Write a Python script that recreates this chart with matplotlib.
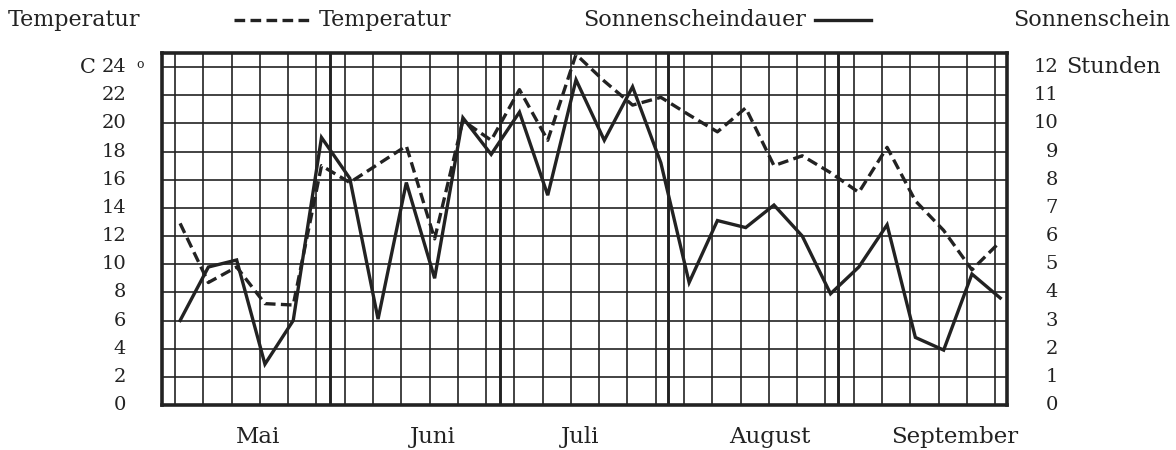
import matplotlib
matplotlib.use("Agg")
import matplotlib.pyplot as plt
import numpy as np

# ---- data (pentads, May - September) ----
temperatur = [12.9, 8.7, 9.8, 7.2, 7.1, 17.0, 15.8, 17.1, 18.4, 11.8,
              20.2, 18.8, 22.4, 18.8, 24.9, 23.0, 21.3, 21.85, 20.6, 19.4,
              21.1, 17.0, 17.7, 16.5, 15.1, 18.3, 14.5, 12.4, 9.6, 11.6]
sonnenschein = [3.0, 4.9, 5.15, 1.45, 3.0, 9.5, 8.05, 3.05, 7.9, 4.5,
                10.2, 8.9, 10.4, 7.45, 11.55, 9.4, 11.3, 8.6, 4.35, 6.55,
                6.3, 7.1, 6.0, 3.95, 4.9, 6.4, 2.4, 1.95, 4.65, 3.8]
months = ["Mai", "Juni", "Juli", "August", "September"]
month_label_pos = [2.76, 8.95, 14.14, 20.86, 27.4]
month_bounds = [5.30, 11.32, 17.26, 23.27]
left_ticks = list(range(0, 25, 2))
right_ticks = list(range(0, 13))

ink = "#222222"
font = "DejaVu Serif"
plt.rcParams['font.family'] = [font]

W, H = 1176, 450
fig = plt.figure(figsize=(W / 100, H / 100), dpi=100)
fig.patch.set_facecolor("white")
L, R, B, T = 162, 1007, 405, 53
ax = fig.add_axes([L / W, 1 - B / H, (R - L) / W, (B - T) / H])
x = np.arange(len(temperatur))
ax.set_xlim(-0.64, 29.24)
ax.set_ylim(0, 25)

# grid
for i in range(len(x)):
    ax.axvline(i - 0.18, color=ink, lw=1.2, zorder=1)
for yv in left_ticks[1:]:
    ax.axhline(yv, color=ink, lw=1.2, zorder=1)
for mb in month_bounds:
    ax.axvline(mb, color=ink, lw=2.1, zorder=1)
for s in ax.spines.values():
    s.set_linewidth(2.6)
    s.set_color(ink)
ax.set_xticks([])
ax.set_yticks([])

# series
sun_left = [v * 2 for v in sonnenschein]
ax.plot(x, sun_left, color=ink, lw=2.4, solid_joinstyle="miter", zorder=3)
ax.plot(x, temperatur, color=ink, lw=2.4, dashes=(3.2, 1.6), zorder=3)

tick_fs = 14
# left axis labels
for v in left_ticks:
    ax.annotate(str(v), xy=(0, v), xycoords=("axes fraction", "data"),
                xytext=(-36, 0), textcoords="offset pixels",
                ha="right", va="center", fontsize=tick_fs, color=ink)
ax.annotate("C", xy=(0, 24), xycoords=("axes fraction", "data"),
            xytext=(-66, 0), textcoords="offset pixels",
            ha="right", va="center", fontsize=15, color=ink)
ax.annotate("o", xy=(0, 24), xycoords=("axes fraction", "data"),
            xytext=(-22, 3), textcoords="offset pixels",
            ha="center", va="center", fontsize=9, color=ink)
# right axis labels
for v in right_ticks:
    ax.annotate(str(v), xy=(1, v * 2), xycoords=("axes fraction", "data"),
                xytext=(51, 0), textcoords="offset pixels",
                ha="right", va="center", fontsize=tick_fs, color=ink)
ax.annotate("Stunden", xy=(1, 24), xycoords=("axes fraction", "data"),
            xytext=(59, 0), textcoords="offset pixels",
            ha="left", va="center", fontsize=16, color=ink)

# month labels
for m, p in zip(months, month_label_pos):
    ax.annotate(m, xy=(p, 0), xycoords="data", xytext=(0, -32),
                textcoords="offset pixels", ha="center", va="center",
                fontsize=16.5, color=ink)

# header
hfs = 16
fy = 1 - 20 / H
fig.text(8 / W, fy, "Temperatur", ha="left", va="center", fontsize=hfs, color=ink)
fig.text(319 / W, fy, "Temperatur", ha="left", va="center", fontsize=hfs, color=ink)
fig.add_artist(matplotlib.lines.Line2D([234 / W, 310 / W], [fy, fy], color=ink,
                                       lw=2.4, dashes=(3.2, 1.6)))
fig.text(806 / W, fy, "Sonnenscheindauer", ha="right", va="center", fontsize=hfs, color=ink)
fig.add_artist(matplotlib.lines.Line2D([815 / W, 871 / W], [fy, fy], color=ink, lw=2.4))
fig.text(1170 / W, fy, "Sonnenschein", ha="right", va="center", fontsize=hfs, color=ink)

fig.savefig("out.png", dpi=100, facecolor="white")
